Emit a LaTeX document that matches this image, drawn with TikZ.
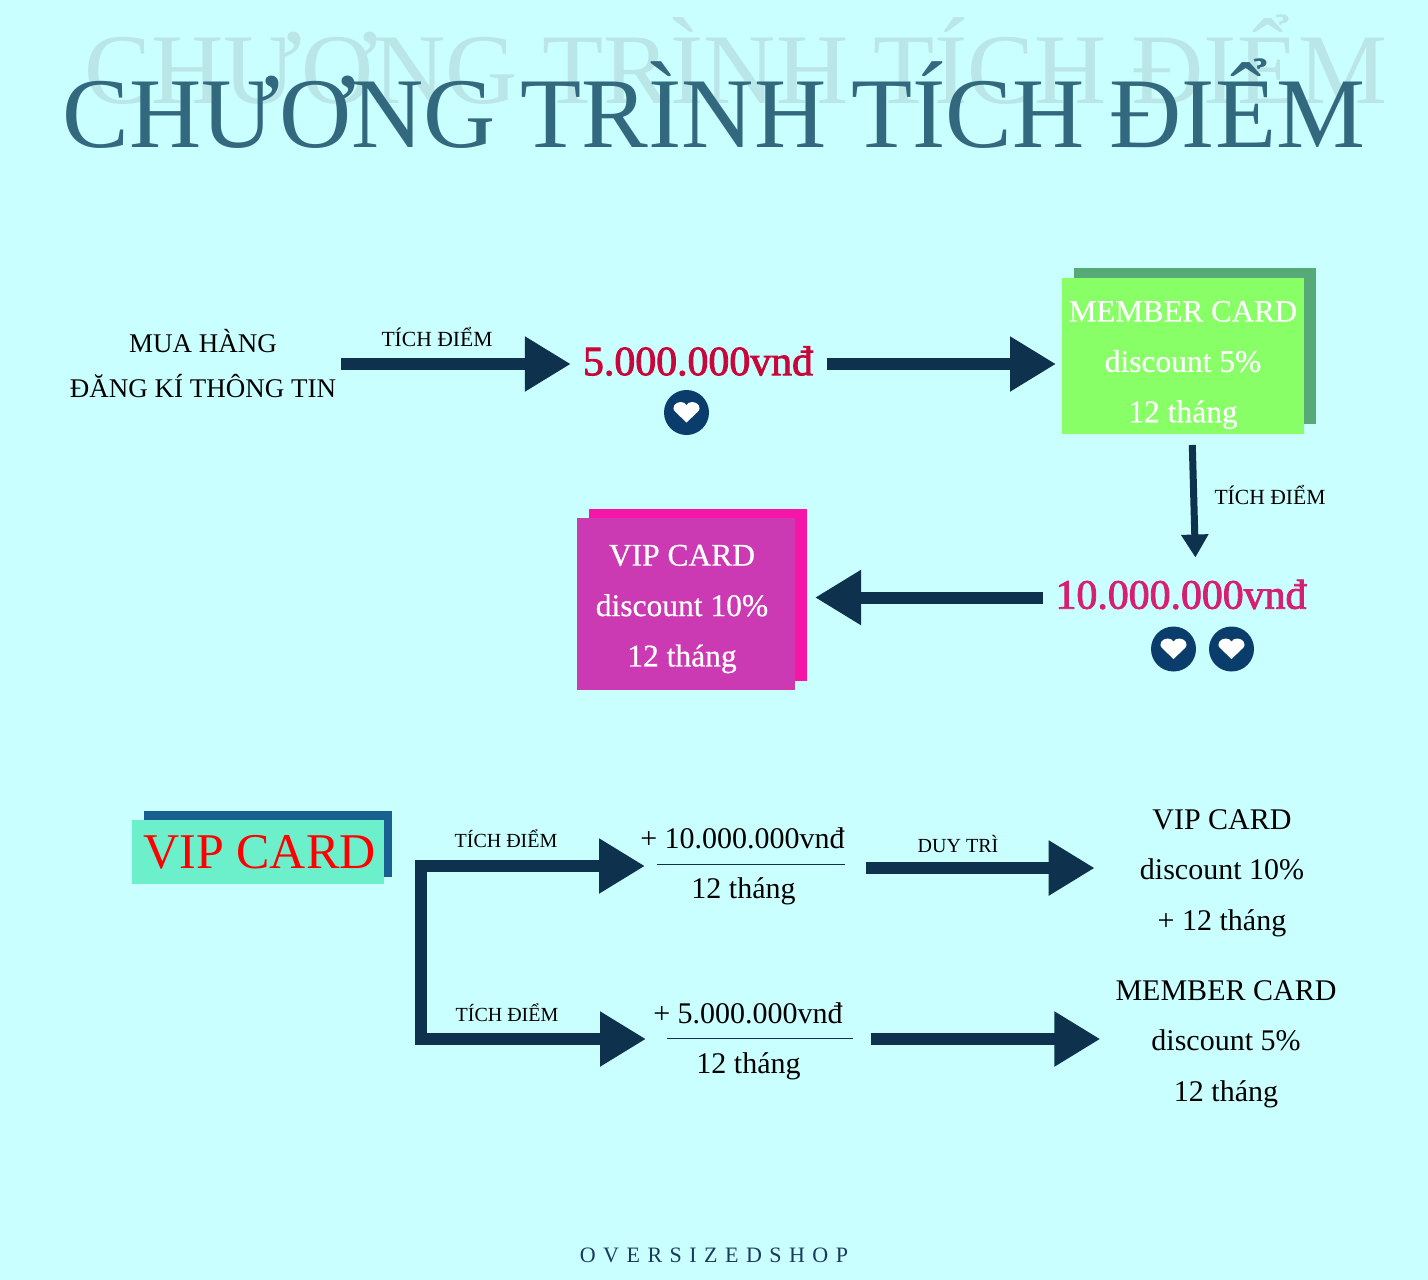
\documentclass[tikz,border=0pt]{standalone}
\usepackage{fontspec}
\setmainfont{Liberation Serif}
\usetikzlibrary{arrows.meta}
\definecolor{bgcyan}{HTML}{C9FFFE}
\definecolor{arrownavy}{HTML}{0E324D}
\definecolor{badgenavy}{HTML}{0A3D6B}
\definecolor{titleteal}{HTML}{32697E}
\definecolor{ghostteal}{HTML}{BAE6E7}
\definecolor{sumred}{HTML}{C8063A}
\definecolor{sumpink}{HTML}{D61F72}
\definecolor{memberfront}{HTML}{88FF66}
\definecolor{memberback}{HTML}{55AA77}
\definecolor{vipfront}{HTML}{CC3AB3}
\definecolor{vipback}{HTML}{F516A8}
\definecolor{plainfront}{HTML}{6CF0CC}
\definecolor{plainback}{HTML}{186090}
\definecolor{footblue}{HTML}{1A3A5C}
\newcommand{\px}[2]{\fontsize{#1pt}{#2pt}\selectfont}
\begin{document}
\begin{tikzpicture}[x=1pt, y=-1pt,
  textnode/.style={inner sep=0pt, align=center, text=black},
  smalltext/.style={textnode, font=\px{21.6}{26}},
  smallertext/.style={textnode, font=\px{20}{24}},
  bodytext/.style={textnode, font=\px{30}{50.4}},
  cardtext/.style={textnode, text=white, font=\px{31.5}{50.4}\addfontfeature{FakeBold=0.6}},
  sumtext/.style={textnode, font=\px{41.8}{48}\addfontfeature{FakeBold=2}},
  card/.style={inner sep=0pt, outer sep=0pt},
  bigarrow/.style={draw=arrownavy, line width=12pt, -{Triangle[length=46pt, width=52pt]}},
  thinarrow/.style={draw=arrownavy, line width=7pt, -{Triangle[length=23pt, width=26pt]}},
  fracline/.style={draw=arrownavy, line width=1pt},
  badge/.style={circle, fill=badgenavy, minimum size=45pt, inner sep=0pt},
  heart/.pic={\fill[white] (0,10) -- (-11,-0.5) .. controls (-16,-5) and (-11,-10.5) .. (-6,-10.5) .. controls (-3.5,-10.5) and (-1,-9.5) .. (0,-7.5) .. controls (1,-9.5) and (3.5,-10.5) .. (6,-10.5) .. controls (11,-10.5) and (16,-5) .. (11,-0.5) -- cycle;}
]
\fill[bgcyan] (0,0) rectangle (1428,1280);
\useasboundingbox (0,0) rectangle (1428,1280);

\node (ghost) [textnode, text=ghostteal, font=\px{100}{110}] at (736,60) {CHƯƠNG TRÌNH TÍCH ĐIỂM};
\node (title) [textnode, text=titleteal, font=\px{100}{110}] at (714,104) {CHƯƠNG TRÌNH TÍCH ĐIỂM};

\node (buy) [textnode, font=\px{27}{45}] at (203,364) {\raisebox{1pt}{MUA HÀNG}\\\raisebox{1pt}{ĐĂNG KÍ THÔNG TIN}};
\node (sum5) [sumtext, text=sumred] at (698,361) {5.000.000vnđ};
\node (badge1) [badge] at (686.5,412.5) {};
\pic at (badge1) {heart};
\node (memberb) [card, fill=memberback, minimum width=242pt, minimum height=156pt] at (1195,346) {};
\node (member) [card, fill=memberfront, minimum width=242pt, minimum height=156pt] at (1183,356) {};
\node (membertxt) [cardtext] at (1183,365) {{\px{31}{50.4}MEMBER CARD}\\discount 5\%\\12 tháng};
\node (sum10) [sumtext, text=sumpink] at (1181,594.5) {10.000.000vnđ};
\node (badge2) [badge] at (1173.5,649) {};
\node (badge3) [badge] at (1231.5,649) {};
\pic at (badge2) {heart};
\pic at (badge3) {heart};
\node (vipb) [card, fill=vipback, minimum width=218pt, minimum height=172pt] at (698,595) {};
\node (vip) [card, fill=vipfront, minimum width=218pt, minimum height=172pt] at (686,604) {};
\node (viptxt) [cardtext] at (682,609) {VIP CARD\\discount 10\%\\12 tháng};

\draw[bigarrow, shorten <=5pt, shorten >=12pt] (buy.east) -- (buy.east -| sum5.west);
\node (tich1) [smalltext] at (437,337) {TÍCH ĐIỂM};
\draw[bigarrow, shorten <=14pt, shorten >=6pt] (buy.east -| sum5.east) -- (buy.east -| member.west);
\draw[thinarrow, shorten <=11pt, shorten >=22pt] ([xshift=9pt]member.south) -- ([xshift=15pt]sum10.north);
\node (tich2) [smalltext] at (1270,495) {TÍCH ĐIỂM};
\draw[bigarrow, shorten <=12pt, shorten >=8pt] ([yshift=-3pt]sum10.west) -- ([yshift=-3pt]sum10.west -| vipb.east);

\node (plainb) [card, fill=plainback, minimum width=248pt, minimum height=66pt] at (268,844) {};
\node (plain) [card, fill=plainfront, minimum width=252pt, minimum height=64pt] at (258,852) {};
\node (plaintxt) [textnode, text=red, font=\px{50}{56}] at (259.5,852) {VIP CARD};

\node (add10) [bodytext] at (742.5,838) {+ 10.000.000vnđ};
\node (term10) [bodytext] at (743.5,891) {12 tháng};
\coordinate (rule10a) at (657,864);
\coordinate (rule10b) at (845,864);
\draw[fracline] (rule10a) -- (rule10b);
\node (add5) [bodytext] at (748,1013) {+ 5.000.000vnđ};
\node (term5) [bodytext] at (748.5,1066) {12 tháng};
\coordinate (rule5a) at (667,1038);
\coordinate (rule5b) at (853,1038);
\draw[fracline] (rule5a) -- (rule5b);
\node (keepvip) [bodytext] at (1222,873) {VIP CARD\\discount 10\%\\+ 12 tháng};
\node (keepmem) [bodytext] at (1226,1044) {MEMBER CARD\\discount 5\%\\12 tháng};

\coordinate (forktop) at (415,866);
\coordinate (forkleft) at (421,860);
\coordinate (forktip1) at (645,866);
\coordinate (forktip2) at (646,1039);
\draw[bigarrow] (forktop) -- (forktip1);
\draw[bigarrow] (forkleft) |- (forktip2);
\node (tich3) [smallertext] at (506,839) {TÍCH ĐIỂM};
\node (tich4) [smallertext] at (507,1013) {TÍCH ĐIỂM};

\coordinate (keep10) at (866,868);
\coordinate (keep5) at (871,1039);
\draw[bigarrow, shorten >=45pt] (keep10) -- (keep10 -| keepvip.west);
\node (duytri) [smallertext] at (958,844) {DUY TRÌ};
\draw[bigarrow, shorten >=15pt] (keep5) -- (keep5 -| keepmem.west);

\node (shop) [textnode, text=footblue, font=\px{22}{26}\addfontfeature{LetterSpace=34}] at (714,1255) {OVERSIZEDSHOP};
\end{tikzpicture}
\end{document}
